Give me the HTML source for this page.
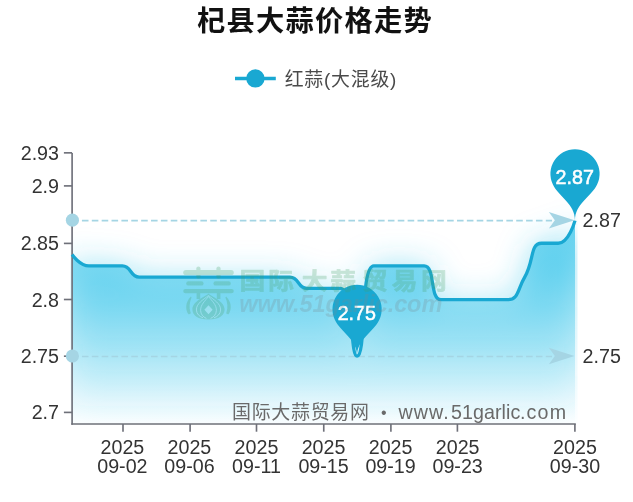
<!DOCTYPE html>
<html lang="zh-CN"><head><meta charset="utf-8"><title>杞县大蒜价格走势</title>
<style>html,body{margin:0;padding:0;background:#fff}body{width:633px;height:502px;overflow:hidden;font-family:"Liberation Sans","Noto Sans CJK SC",sans-serif}svg{display:block}</style>
</head><body>
<svg width="633" height="502" viewBox="0 0 633 502" font-family='"Liberation Sans","Noto Sans CJK SC",sans-serif'>
<defs>
<linearGradient id="ag" gradientUnits="userSpaceOnUse" x1="0" y1="220.7" x2="0" y2="424.0">
<stop offset="0" stop-color="#35c4ea" stop-opacity="0.75"/>
<stop offset="1" stop-color="#35c4ea" stop-opacity="0"/>
</linearGradient>
<linearGradient id="am" gradientUnits="userSpaceOnUse" x1="0" y1="220.7" x2="0" y2="424.0">
<stop offset="0" stop-color="#35c4ea" stop-opacity="0.66"/>
<stop offset="1" stop-color="#35c4ea" stop-opacity="0"/>
</linearGradient>
<filter id="sh" filterUnits="userSpaceOnUse" x="0" y="100" width="633" height="400">
<feGaussianBlur stdDeviation="16"/>
</filter>
<clipPath id="gc"><rect x="70.5" y="0" width="507.0" height="424.0"/></clipPath>
</defs>
<rect width="633" height="502" fill="#fff"/>
<text x="196.9" y="31.3" font-size="28.28" letter-spacing="1.24" font-weight="bold" fill="#111">杞县大蒜价格走势</text>
<line x1="235" y1="78.5" x2="275.8" y2="78.5" stroke="#19a8d2" stroke-width="3.28"/>
<circle cx="255.4" cy="78.4" r="9.2" fill="#19a8d2"/>
<text x="284.7" y="85.6" font-size="18.89" letter-spacing="0.79" fill="#4a4a4a">红蒜(大混级)</text>
<g clip-path="url(#gc)">
<path d="M72.10 254.54 C72.10 254.54 79.70 265.83 88.86 265.83 C96.46 265.83 97.25 265.83 105.63 265.83 C114.01 265.83 114.79 265.83 122.39 265.83 C131.55 265.83 129.99 277.12 139.15 277.12 C146.75 277.12 147.53 277.12 155.92 277.12 C164.30 277.12 164.30 277.12 172.68 277.12 C181.06 277.12 181.06 277.12 189.44 277.12 C197.82 277.12 197.82 277.12 206.21 277.12 C214.59 277.12 214.59 277.12 222.97 277.12 C231.35 277.12 231.35 277.12 239.73 277.12 C248.12 277.12 248.12 277.12 256.50 277.12 C264.88 277.12 264.88 277.12 273.26 277.12 C281.64 277.12 282.42 277.12 290.02 277.12 C299.19 277.12 297.62 288.41 306.79 288.41 C314.39 288.41 315.17 288.41 323.55 288.41 C331.93 288.41 337.07 288.41 340.31 288.41 C353.83 288.41 349.84 356.15 357.08 356.15 C366.60 356.15 359.66 265.83 373.84 265.83 C376.43 265.83 382.22 265.83 390.60 265.83 C398.99 265.83 398.99 265.83 407.37 265.83 C415.75 265.83 418.98 265.83 424.13 265.83 C435.74 265.83 429.28 299.70 440.89 299.70 C446.04 299.70 449.27 299.70 457.66 299.70 C466.04 299.70 466.04 299.70 474.42 299.70 C482.80 299.70 482.80 299.70 491.18 299.70 C499.56 299.70 501.69 299.70 507.95 299.70 C518.45 299.70 517.56 289.16 524.71 277.12 C534.32 260.94 529.86 243.25 541.47 243.25 C546.62 243.25 551.98 243.25 558.24 243.25 C568.74 243.25 575.00 220.67 575.00 220.67 L575.00 424.00 L72.10 424.00 Z" fill="url(#am)" filter="url(#sh)"/>
<path d="M72.10 254.54 C72.10 254.54 79.70 265.83 88.86 265.83 C96.46 265.83 97.25 265.83 105.63 265.83 C114.01 265.83 114.79 265.83 122.39 265.83 C131.55 265.83 129.99 277.12 139.15 277.12 C146.75 277.12 147.53 277.12 155.92 277.12 C164.30 277.12 164.30 277.12 172.68 277.12 C181.06 277.12 181.06 277.12 189.44 277.12 C197.82 277.12 197.82 277.12 206.21 277.12 C214.59 277.12 214.59 277.12 222.97 277.12 C231.35 277.12 231.35 277.12 239.73 277.12 C248.12 277.12 248.12 277.12 256.50 277.12 C264.88 277.12 264.88 277.12 273.26 277.12 C281.64 277.12 282.42 277.12 290.02 277.12 C299.19 277.12 297.62 288.41 306.79 288.41 C314.39 288.41 315.17 288.41 323.55 288.41 C331.93 288.41 337.07 288.41 340.31 288.41 C353.83 288.41 349.84 356.15 357.08 356.15 C366.60 356.15 359.66 265.83 373.84 265.83 C376.43 265.83 382.22 265.83 390.60 265.83 C398.99 265.83 398.99 265.83 407.37 265.83 C415.75 265.83 418.98 265.83 424.13 265.83 C435.74 265.83 429.28 299.70 440.89 299.70 C446.04 299.70 449.27 299.70 457.66 299.70 C466.04 299.70 466.04 299.70 474.42 299.70 C482.80 299.70 482.80 299.70 491.18 299.70 C499.56 299.70 501.69 299.70 507.95 299.70 C518.45 299.70 517.56 289.16 524.71 277.12 C534.32 260.94 529.86 243.25 541.47 243.25 C546.62 243.25 551.98 243.25 558.24 243.25 C568.74 243.25 575.00 220.67 575.00 220.67 L575.00 424.00 L72.10 424.00 Z" fill="url(#ag)"/>
</g>
<g stroke="#6e7079" stroke-width="1.64" fill="none">
<line x1="72.10" y1="152.93" x2="72.10" y2="424.82"/>
<line x1="71.28" y1="424.00" x2="575.82" y2="424.00"/>
<line x1="63.90" y1="412.40" x2="72.10" y2="412.40"/>
<line x1="63.90" y1="356.20" x2="72.10" y2="356.20"/>
<line x1="63.90" y1="299.50" x2="72.10" y2="299.50"/>
<line x1="63.90" y1="243.40" x2="72.10" y2="243.40"/>
<line x1="63.90" y1="185.90" x2="72.10" y2="185.90"/>
<line x1="63.90" y1="152.85" x2="72.10" y2="152.85"/>
<line x1="123.00" y1="424.00" x2="123.00" y2="431.71"/>
<line x1="190.10" y1="424.00" x2="190.10" y2="431.71"/>
<line x1="256.50" y1="424.00" x2="256.50" y2="431.71"/>
<line x1="323.75" y1="424.00" x2="323.75" y2="431.71"/>
<line x1="390.90" y1="424.00" x2="390.90" y2="431.71"/>
<line x1="457.40" y1="424.00" x2="457.40" y2="431.71"/>
<line x1="574.90" y1="424.00" x2="574.90" y2="431.71"/>
</g>
<g font-size="19.68" fill="#333" text-anchor="end">
<text x="59.00" y="419.40">2.7</text>
<text x="59.00" y="363.20">2.75</text>
<text x="59.00" y="306.50">2.8</text>
<text x="59.00" y="250.40">2.85</text>
<text x="59.00" y="192.90">2.9</text>
<text x="59.00" y="159.85">2.93</text>
</g>
<g font-size="19.68" fill="#333" text-anchor="middle">
<text x="122.39" y="453.5">2025</text>
<text x="122.39" y="473.0">09-02</text>
<text x="189.44" y="453.5">2025</text>
<text x="189.44" y="473.0">09-06</text>
<text x="256.50" y="453.5">2025</text>
<text x="256.50" y="473.0">09-11</text>
<text x="323.55" y="453.5">2025</text>
<text x="323.55" y="473.0">09-15</text>
<text x="390.60" y="453.5">2025</text>
<text x="390.60" y="473.0">09-19</text>
<text x="457.66" y="453.5">2025</text>
<text x="457.66" y="473.0">09-23</text>
<text x="575.00" y="453.5">2025</text>
<text x="575.00" y="473.0">09-30</text>
</g>
<line x1="72.06" y1="220.65" x2="552.00" y2="220.65" stroke="#a5d5e4" stroke-width="1.64" stroke-dasharray="6.58 3.29"/>
<line x1="72.06" y1="356.50" x2="552.00" y2="356.50" stroke="#a5d5e4" stroke-width="1.64" stroke-dasharray="6.58 3.29"/>
<path d="M72.10 254.54 C72.10 254.54 79.70 265.83 88.86 265.83 C96.46 265.83 97.25 265.83 105.63 265.83 C114.01 265.83 114.79 265.83 122.39 265.83 C131.55 265.83 129.99 277.12 139.15 277.12 C146.75 277.12 147.53 277.12 155.92 277.12 C164.30 277.12 164.30 277.12 172.68 277.12 C181.06 277.12 181.06 277.12 189.44 277.12 C197.82 277.12 197.82 277.12 206.21 277.12 C214.59 277.12 214.59 277.12 222.97 277.12 C231.35 277.12 231.35 277.12 239.73 277.12 C248.12 277.12 248.12 277.12 256.50 277.12 C264.88 277.12 264.88 277.12 273.26 277.12 C281.64 277.12 282.42 277.12 290.02 277.12 C299.19 277.12 297.62 288.41 306.79 288.41 C314.39 288.41 315.17 288.41 323.55 288.41 C331.93 288.41 337.07 288.41 340.31 288.41 C353.83 288.41 349.84 356.15 357.08 356.15 C366.60 356.15 359.66 265.83 373.84 265.83 C376.43 265.83 382.22 265.83 390.60 265.83 C398.99 265.83 398.99 265.83 407.37 265.83 C415.75 265.83 418.98 265.83 424.13 265.83 C435.74 265.83 429.28 299.70 440.89 299.70 C446.04 299.70 449.27 299.70 457.66 299.70 C466.04 299.70 466.04 299.70 474.42 299.70 C482.80 299.70 482.80 299.70 491.18 299.70 C499.56 299.70 501.69 299.70 507.95 299.70 C518.45 299.70 517.56 289.16 524.71 277.12 C534.32 260.94 529.86 243.25 541.47 243.25 C546.62 243.25 551.98 243.25 558.24 243.25 C568.74 243.25 575.00 220.67 575.00 220.67" fill="none" stroke="#19a8d2" stroke-width="3.28" stroke-linejoin="bevel"/>
<circle cx="72.40" cy="220.15" r="6.56" fill="#a5d5e4"/>
<path d="M574.40 220.15 L548.85 211.90 L554.85 220.15 L548.85 228.40 Z" fill="#a5d5e4"/>
<text x="582.6" y="227.25" font-size="19.68" fill="#333">2.87</text>
<circle cx="72.40" cy="356.00" r="6.56" fill="#a5d5e4"/>
<path d="M574.40 356.00 L548.85 347.75 L554.85 356.00 L548.85 364.25 Z" fill="#a5d5e4"/>
<text x="582.6" y="363.10" font-size="19.68" fill="#333">2.75</text>
<path d="M552.78 184.36 A24.60 24.60 0 1 1 597.22 184.36 C590.90 197.69 575.00 203.45 575.00 220.67 C575.00 203.45 559.10 197.69 552.78 184.36Z" fill="#19a8d2"/>
<text x="574.70" y="184.07" font-size="19.68" fill="#fff" stroke="#fff" stroke-width="0.55" text-anchor="middle">2.87</text>
<path d="M334.85 319.84 A24.60 24.60 0 1 1 379.30 319.84 C372.98 333.17 357.08 338.93 357.08 356.15 C357.08 338.93 341.18 333.17 334.85 319.84Z" fill="#19a8d2"/>
<text x="356.78" y="319.55" font-size="19.68" fill="#fff" stroke="#fff" stroke-width="0.55" text-anchor="middle">2.75</text>
<g opacity="0.25">
<g fill="#45a066" stroke="none">
<rect x="183.2" y="269.9" width="50.6" height="5.2" rx="2.6"/>
<rect x="196.3" y="266.4" width="4.2" height="12.4" rx="2.1"/>
<rect x="216.4" y="266.4" width="4.2" height="12.4" rx="2.1"/>
<rect x="186.2" y="281.2" width="17.4" height="4.4" rx="2.2"/>
<rect x="213.4" y="281.2" width="17.4" height="4.4" rx="2.2"/>
<rect x="183.2" y="288.9" width="50.6" height="4.4" rx="2.2"/>
<rect x="196.6" y="291" width="3.6" height="8" />
<rect x="216.8" y="291" width="3.6" height="8" />
<path d="M190.9 296.4 C185.6 301.5 184.9 308.8 188.4 314.2 C189.9 314.6 191.1 313.8 190.6 312.6 C188.9 307.5 189.5 302 191.6 297.4Z"/>
<path d="M226.1 296.4 C231.4 301.5 232.1 308.8 228.6 314.2 C227.1 314.6 225.9 313.8 226.4 312.6 C228.1 307.5 227.5 302 225.4 297.4Z"/>
<path d="M208.5 293.4 C211 296.5 224.6 300.5 224.6 309.6 C224.6 315.5 219 319.6 208.5 319.6 C198 319.6 192.4 315.5 192.4 309.6 C192.4 300.5 206 296.5 208.5 293.4Z"/>
</g>
<g fill="none" stroke="#fff" stroke-width="0.9" stroke-opacity="0.85">
<path d="M208.5 295.5 C203 300 196.2 303.5 196.4 310 C196.6 314 199.5 316.6 203 317.8"/>
<path d="M208.5 295.5 C214 300 220.8 303.5 220.6 310 C220.4 314 217.5 316.6 214 317.8"/>
<path d="M208.5 296.5 C205 301 200.6 304.5 200.6 310.4 C200.6 314.4 203.5 317.2 206.4 318.4"/>
<path d="M208.5 296.5 C212 301 216.4 304.5 216.4 310.4 C216.4 314.4 213.5 317.2 210.6 318.4"/>
</g>
<path d="M208.5 305.2 L212.6 309.7 L208.5 314.2 L204.4 309.7Z" fill="#fff" fill-opacity="0.9"/>
<text transform="scale(1.14 1)" x="210.2 235.4 264.7 289.6 317.5 343.7 369.4" y="288.9" font-size="22.6" font-weight="bold" fill="#45a066" stroke="#45a066" stroke-width="0.7" stroke-linejoin="round">国际大蒜贸易网</text>
<text x="239.3" y="311.5" font-size="23.5" font-weight="bold" font-style="italic" fill="#7a8a90" textLength="203" lengthAdjust="spacing">www.51garlic.com</text>
</g>
<text y="419.3" font-size="19.68" fill="#6a6a6a"><tspan x="232.0" font-size="18.99" letter-spacing="0.69">国际大蒜贸易网</tspan><tspan x="383.7" y="417.6" text-anchor="middle" font-size="16">•</tspan><tspan x="398.6" y="419.3" letter-spacing="1.0">www.</tspan><tspan x="451.0" letter-spacing="0.05">51garlic</tspan><tspan x="520.0" letter-spacing="1.15">.com</tspan></text>
</svg>
</body></html>
